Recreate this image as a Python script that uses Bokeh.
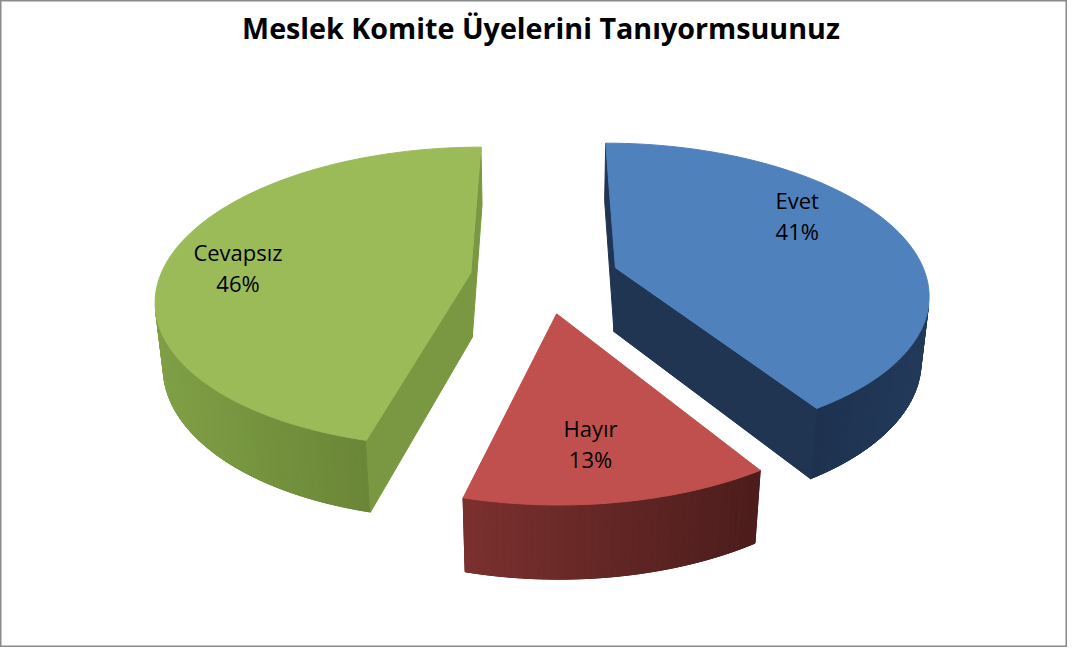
import numpy as np
from bokeh.plotting import figure
from bokeh.models import Range1d
from bokeh.embed import file_html
from bokeh.resources import INLINE
from bokeh.core.properties import value

# ---------------- data ----------------
categories = ["Evet", "Hayır", "Cevapsız"]
values = [41, 13, 46]
title_text = "Meslek Komite Üyelerini Tanıyormsuunuz"

# ---------------- styles ----------------
top_colors = ["#4F81BD", "#C0504D", "#9BBB59"]
wall_left_colors = ["#1E3250", "#7A302E", "#80A046"]
wall_right_colors = ["#233A5B", "#4C1D1C", "#6A8637"]
radial_colors = ["#1F3552", "#5A2322", "#7A9842"]
label_angle_adj = [-15.0, 2.0, -4.0]
label_r = [0.75, 0.72, 0.76]
FONT = "Open Sans"

# ---------------- 3D projection layout ----------------
W, H = 1067, 647
S, Q = 311.0, 0.182
ALPHA = np.radians(28.3)
CA, SA = np.cos(ALPHA), np.sin(ALPHA)
OX, OY = 552.0, 285.0
THICK, EXPLODE = 0.24, 0.24
CAM = np.array([0.0, -CA / Q, SA / Q])


def project(x, y, z):
    x = np.asarray(x, float); y = np.asarray(y, float); z = np.asarray(z, float)
    w = 1 + Q * (y * CA - z * SA)
    return OX + S * x / w, OY - S * (y * SA + z * CA) / w


def visible(normal, point):
    return float(np.dot(normal, CAM - np.asarray(point))) > 0


def hex2rgb(h):
    h = h.lstrip("#")
    return np.array([int(h[i:i + 2], 16) for i in (0, 2, 4)], float)


def mix(c1, c2, t):
    c = hex2rgb(c1) * (1 - t) + hex2rgb(c2) * t
    return "#%02x%02x%02x" % tuple(int(round(v)) for v in c)


total = float(sum(values))
slices = []
start = 0.0
for i, v in enumerate(values):
    span = 360.0 * v / total
    a, b = start, start + span
    mid = np.radians((a + b) / 2)
    cx, cy = EXPLODE * np.sin(mid), EXPLODE * np.cos(mid)
    slices.append((i, a, b, cx, cy))
    start = b

xs, ys, cols = [], [], []

for (i, a, b, cx, cy) in sorted(slices, key=lambda s: -s[4]):
    n = max(2, int((b - a) / 1.0) + 1)
    th = np.radians(np.linspace(a, b, n))
    ax_, ay_ = cx + np.sin(th), cy + np.cos(th)

    # outer wall: find visible segments
    vis = []
    for k in range(n - 1):
        tm = (th[k] + th[k + 1]) / 2
        nrm = np.array([np.sin(tm), np.cos(tm), 0.0])
        pt = np.array([cx + np.sin(tm), cy + np.cos(tm), -THICK / 2])
        vis.append(visible(nrm, pt))
    idx = [k for k in range(n - 1) if vis[k]]
    if idx:
        k0, k1 = idx[0], idx[-1] + 1
        ux = np.concatenate([ax_[k0:k1 + 1], ax_[k0:k1 + 1][::-1]])
        uy = np.concatenate([ay_[k0:k1 + 1], ay_[k0:k1 + 1][::-1]])
        uz = np.concatenate([np.zeros(k1 - k0 + 1), -THICK * np.ones(k1 - k0 + 1)])
        px, py = project(ux, uy, uz)
        xs.append(list(px)); ys.append(list(py))
        cols.append(mix(wall_left_colors[i], wall_right_colors[i], 0.5))
        quads = []
        for k in idx:
            qx = [ax_[k], ax_[k + 1], ax_[k + 1], ax_[k]]
            qy = [ay_[k], ay_[k + 1], ay_[k + 1], ay_[k]]
            qz = [0, 0, -THICK, -THICK]
            px, py = project(qx, qy, qz)
            quads.append((px, py))
        centers = [np.mean(q[0]) for q in quads]
        lo, hi = min(centers), max(centers)
        for (px, py), c in zip(quads, centers):
            t = 0.0 if hi == lo else (c - lo) / (hi - lo)
            xs.append(list(px)); ys.append(list(py))
            cols.append(mix(wall_left_colors[i], wall_right_colors[i], t))

    # radial faces
    ar, br = np.radians(a), np.radians(b)
    for ang, nrm in ((ar, np.array([-np.cos(ar), np.sin(ar), 0.0])),
                     (br, np.array([np.cos(br), -np.sin(br), 0.0]))):
        ex, ey = cx + np.sin(ang), cy + np.cos(ang)
        pt = np.array([(cx + ex) / 2, (cy + ey) / 2, -THICK / 2])
        if visible(nrm, pt):
            px, py = project([cx, ex, ex, cx], [cy, ey, ey, cy], [0, 0, -THICK, -THICK])
            xs.append(list(px)); ys.append(list(py)); cols.append(radial_colors[i])

    # top face
    tx = np.concatenate([[cx], ax_])
    ty = np.concatenate([[cy], ay_])
    px, py = project(tx, ty, np.zeros_like(tx))
    xs.append(list(px)); ys.append(list(py)); cols.append(top_colors[i])

# labels (two lines: category, percent)
lab_x, lab_y, lab_t = [], [], []
for (i, a, b, cx, cy) in slices:
    m = np.radians((a + b) / 2 + label_angle_adj[i])
    r = label_r[i]
    lx, ly = project(cx + r * np.sin(m), cy + r * np.cos(m), 0.0)
    pct = f"{round(100 * values[i] / total)}%"
    lab_x += [float(lx), float(lx)]
    lab_y += [float(ly) - 15, float(ly) + 16]
    lab_t += [categories[i], pct]

p = figure(width=W, height=H, x_range=Range1d(8, 8 + W), y_range=Range1d(8 + H, 8),
           output_backend="svg", toolbar_location=None, min_border=0,
           x_axis_location=None, y_axis_location=None)
p.grid.visible = False
p.background_fill_color = "white"
p.border_fill_color = "white"
p.outline_line_color = "#8A8A8A"
p.outline_line_width = 2

p.patches(xs=xs, ys=ys, fill_color=cols, line_color=cols, line_width=1.0)

p.text(x=lab_x, y=lab_y, text=lab_t, text_font=value(FONT), text_font_size="22px",
       text_align="center", text_baseline="middle", text_color="#000000")

p.text(x=[548.5], y=[35], text=[title_text], text_font=value(FONT), text_font_style="bold",
       text_font_size="28.7px", text_align="center", text_baseline="middle",
       text_color="#000000")

open("out.html", "w").write(file_html(p, INLINE))
